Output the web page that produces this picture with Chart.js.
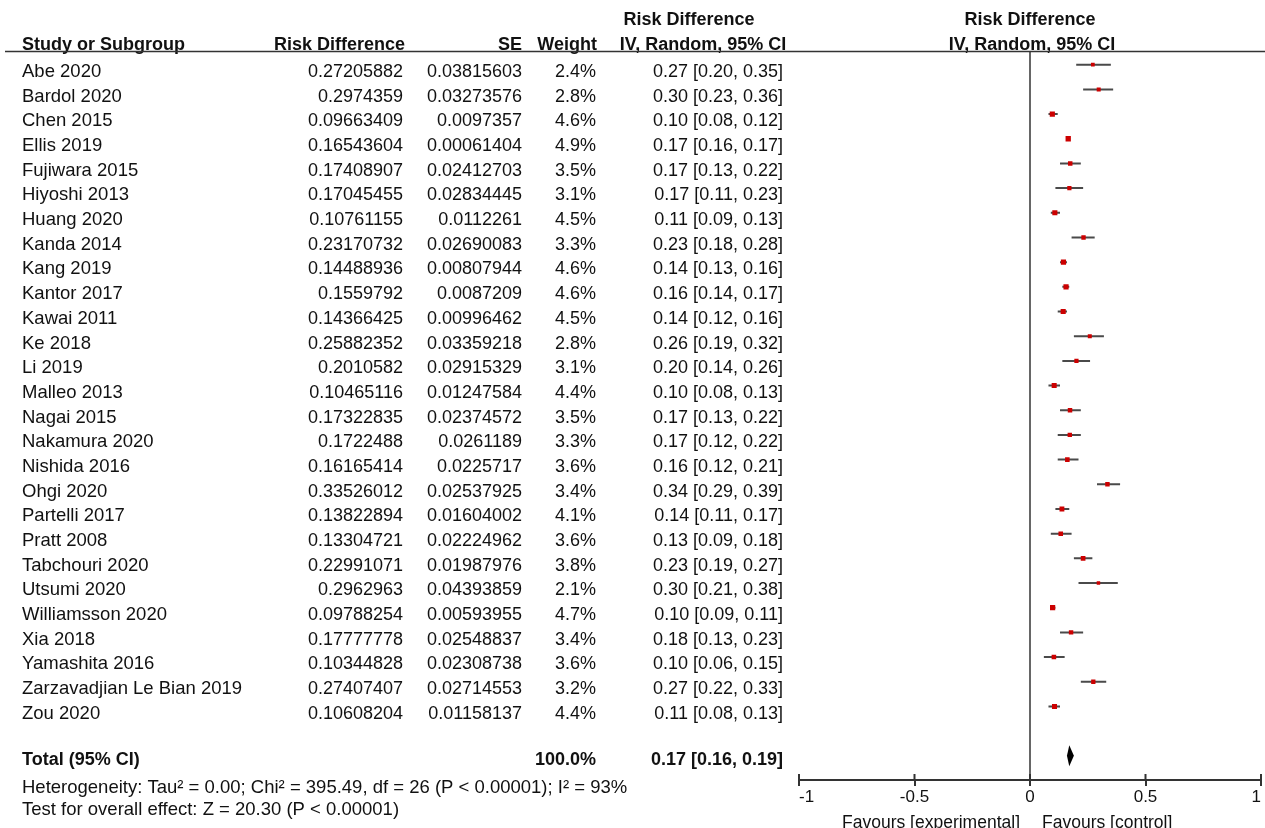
<!DOCTYPE html>
<html>
<head>
<meta charset="utf-8">
<script src="https://cdn.jsdelivr.net/npm/chart.js@4"></script>
<style>
  body { margin: 0; background: #fff; }
  #forest { display: block; }
</style>
</head>
<body>
<canvas id="forest" width="1265" height="828"></canvas>
<script>
const studies = ['Abe 2020', 'Bardol 2020', 'Chen 2015', 'Ellis 2019', 'Fujiwara 2015', 'Hiyoshi 2013',
  'Huang 2020', 'Kanda 2014', 'Kang 2019', 'Kantor 2017', 'Kawai 2011', 'Ke 2018', 'Li 2019',
  'Malleo 2013', 'Nagai 2015', 'Nakamura 2020', 'Nishida 2016', 'Ohgi 2020', 'Partelli 2017',
  'Pratt 2008', 'Tabchouri 2020', 'Utsumi 2020', 'Williamsson 2020', 'Xia 2018', 'Yamashita 2016',
  'Zarzavadjian Le Bian 2019', 'Zou 2020'];
const riskDiff = [0.27205882, 0.2974359, 0.09663409, 0.16543604, 0.17408907, 0.17045455,
  0.10761155, 0.23170732, 0.14488936, 0.1559792, 0.14366425, 0.25882352, 0.2010582,
  0.10465116, 0.17322835, 0.1722488, 0.16165414, 0.33526012, 0.13822894,
  0.13304721, 0.22991071, 0.2962963, 0.09788254, 0.17777778, 0.10344828,
  0.27407407, 0.10608204];
const stdErr = [0.03815603, 0.03273576, 0.0097357, 0.00061404, 0.02412703, 0.02834445,
  0.0112261, 0.02690083, 0.00807944, 0.0087209, 0.00996462, 0.03359218, 0.02915329,
  0.01247584, 0.02374572, 0.0261189, 0.0225717, 0.02537925, 0.01604002,
  0.02224962, 0.01987976, 0.04393859, 0.00593955, 0.02548837, 0.02308738,
  0.02714553, 0.01158137];
const weights = [2.4, 2.8, 4.6, 4.9, 3.5, 3.1, 4.5, 3.3, 4.6, 4.6, 4.5, 2.8, 3.1,
  4.4, 3.5, 3.3, 3.6, 3.4, 4.1, 3.6, 3.8, 2.1, 4.7, 3.4, 3.6, 3.2, 4.4];
const ciLow = [0.20, 0.23, 0.08, 0.16, 0.13, 0.11, 0.09, 0.18, 0.13, 0.14, 0.12, 0.19, 0.14,
  0.08, 0.13, 0.12, 0.12, 0.29, 0.11, 0.09, 0.19, 0.21, 0.09, 0.13, 0.06, 0.22, 0.08];
const ciHigh = [0.35, 0.36, 0.12, 0.17, 0.22, 0.23, 0.13, 0.28, 0.16, 0.17, 0.16, 0.32, 0.26,
  0.13, 0.22, 0.22, 0.21, 0.39, 0.17, 0.18, 0.27, 0.38, 0.11, 0.23, 0.15, 0.33, 0.13];
const total = [0.17, 0.16, 0.19];   // estimate, low, high
const totalWeight = 100.0;
const xTicks = [-1, -0.5, 0, 0.5, 1];
const heterogeneity = 'Heterogeneity: Tau² = 0.00; Chi² = 395.49, df = 26 (P < 0.00001); I² = 93%';
const overallEffect = 'Test for overall effect: Z = 20.30 (P < 0.00001)';

const totalRow = studies.length + 1;
const FONT = '"Liberation Sans", Arial, sans-serif';

// CI whiskers as one line dataset, broken by null points
const ciData = [];
studies.forEach((s, i) => {
  ciData.push({ x: ciLow[i], y: i });
  ciData.push({ x: ciHigh[i], y: i });
  ciData.push({ x: ciHigh[i], y: null });
});

const fmtCI = (e, l, h) => e.toFixed(2) + ' [' + l.toFixed(2) + ', ' + h.toFixed(2) + ']';

const tablePlugin = {
  id: 'table',
  afterDraw(chart) {
    const ctx = chart.ctx;
    const xs = chart.scales.x, ys = chart.scales.y;
    const area = chart.chartArea;
    ctx.save();
    ctx.fillStyle = '#111';
    ctx.textBaseline = 'alphabetic';

    // header
    ctx.font = 'bold 18px ' + FONT;
    ctx.textAlign = 'left';
    ctx.fillText('Study or Subgroup', 22, 50);
    ctx.textAlign = 'right';
    ctx.fillText('Risk Difference', 405, 50);
    ctx.fillText('SE', 522, 50);
    ctx.fillText('Weight', 597, 50);
    ctx.textAlign = 'center';
    ctx.fillText('Risk Difference', 689, 25);
    ctx.fillText('IV, Random, 95% CI', 703, 50);
    const mid = xs.getPixelForValue(0);
    ctx.fillText('Risk Difference', mid, 25);
    ctx.fillText('IV, Random, 95% CI', mid + 2, 50);

    ctx.strokeStyle = '#333';
    ctx.lineWidth = 1.5;
    ctx.beginPath();
    ctx.moveTo(5, area.top);
    ctx.lineTo(1265, area.top);
    ctx.stroke();

    // study rows
    studies.forEach((s, i) => {
      const py = ys.getPixelForValue(i) + 12.3;
      ctx.font = '18.5px ' + FONT;
      ctx.textAlign = 'left';
      ctx.fillText(s, 22, py);
      ctx.font = '18px ' + FONT;
      ctx.textAlign = 'right';
      ctx.fillText(String(riskDiff[i]), 403, py);
      ctx.fillText(String(stdErr[i]), 522, py);
      ctx.fillText(weights[i].toFixed(1) + '%', 596, py);
      ctx.fillText(fmtCI(riskDiff[i], ciLow[i], ciHigh[i]), 783, py);
    });

    // total row
    const ty = ys.getPixelForValue(totalRow);
    ctx.font = 'bold 18px ' + FONT;
    ctx.textAlign = 'left';
    ctx.fillText('Total (95% CI)', 22, ty + 9);
    ctx.textAlign = 'right';
    ctx.fillText(totalWeight.toFixed(1) + '%', 596, ty + 9);
    ctx.fillText(fmtCI(total[0], total[1], total[2]), 783, ty + 9);
    ctx.font = '18.5px ' + FONT;
    ctx.textAlign = 'left';
    ctx.fillText(heterogeneity, 22, ty + 37);
    ctx.fillText(overallEffect, 22, ty + 59.5);

    // diamond
    ctx.fillStyle = '#000';
    ctx.beginPath();
    ctx.moveTo(xs.getPixelForValue(total[1]), ty);
    ctx.lineTo(xs.getPixelForValue(total[0]), ty - 10.5);
    ctx.lineTo(xs.getPixelForValue(total[2]), ty);
    ctx.lineTo(xs.getPixelForValue(total[0]), ty + 10.5);
    ctx.closePath();
    ctx.fill();

    // upper half of axis tick marks
    ctx.strokeStyle = '#333';
    ctx.lineWidth = 2;
    xTicks.forEach(v => {
      const px = xs.getPixelForValue(v);
      ctx.beginPath();
      ctx.moveTo(px, area.bottom - 6);
      ctx.lineTo(px, area.bottom);
      ctx.stroke();
    });

    // favours labels
    ctx.fillStyle = '#111';
    ctx.font = '17.5px ' + FONT;
    ctx.textAlign = 'right';
    ctx.fillText('Favours [experimental]', mid - 10, 828);
    ctx.textAlign = 'left';
    ctx.fillText('Favours [control]', mid + 12, 828);
    ctx.restore();
  }
};

new Chart(document.getElementById('forest'), {
  type: 'scatter',
  data: {
    datasets: [{
      data: riskDiff.map((v, i) => ({ x: v, y: i })),
      pointStyle: 'rect',
      pointRadius: weights.map(w => 1.7 * Math.sqrt(w)),
      backgroundColor: '#cc0000',
      borderWidth: 0,
      order: 0
    }, {
      type: 'line',
      data: ciData,
      borderColor: '#4a4a4a',
      borderWidth: 2,
      pointRadius: 0,
      spanGaps: false,
      fill: false,
      order: 1
    }]
  },
  options: {
    responsive: false,
    animation: false,
    layout: { padding: { left: 799, right: 3, top: 51.5, bottom: 0 } },
    plugins: {
      legend: { display: false },
      tooltip: { enabled: false }
    },
    scales: {
      x: {
        type: 'linear',
        min: -1,
        max: 1,
        afterBuildTicks: s => { s.ticks = xTicks.map(v => ({ value: v })); },
        afterFit: s => { s.height = 48; },
        ticks: {
          align: 'inner',
          maxRotation: 0,
          padding: 1,
          color: '#111',
          font: { size: 17, family: FONT },
          callback: v => String(v)
        },
        grid: {
          color: c => (c.tick && c.tick.value === 0) ? '#666' : 'rgba(0,0,0,0)',
          tickColor: '#333',
          tickLength: 6,
          lineWidth: 2
        },
        border: { display: true, color: '#333', width: 2 }
      },
      y: {
        type: 'linear',
        display: false,
        reverse: true,
        min: -0.535,
        max: 28.98
      }
    }
  },
  plugins: [tablePlugin]
});
</script>
</body>
</html>
